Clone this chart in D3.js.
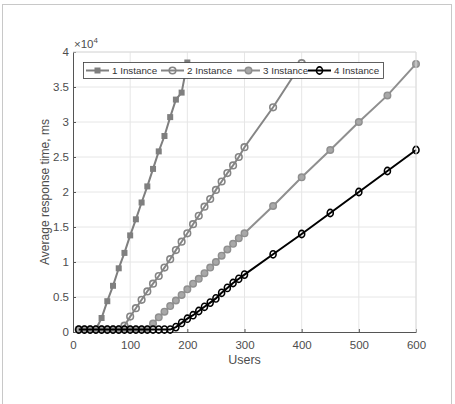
<!DOCTYPE html>
<html>
<head>
<meta charset="utf-8">
<script src="https://cdn.jsdelivr.net/npm/d3@7"></script>
<style>
  body { margin: 0; background: #fff; }
  text { font-family: "Liberation Sans", Arial, sans-serif; }
</style>
</head>
<body>
<div id="chart"></div>
<script>
// data (response time in ms)
const users1 = [10, 20, 30, 40, 50, 60, 70, 80, 90, 100, 110, 120, 130, 140, 150, 160, 170, 180, 190, 200];
const resp1 = [350, 350, 350, 350, 2000, 4400, 6600, 9100, 11300, 13800, 16100, 18500, 20800, 23300, 25800, 28000, 30700, 33200, 34200, 38500];

const users2 = [10, 20, 30, 40, 50, 60, 70, 80, 90, 100, 110, 120, 130, 140, 150, 160, 170, 180, 190, 200,
    210, 220, 230, 240, 250, 260, 270, 280, 290, 300, 350, 400];
const resp2 = [350, 350, 350, 350, 350, 350, 350, 350, 900, 2200, 3400, 4600, 5800, 6900, 8000, 9200, 10400, 11700, 12900, 14100,
    15400, 16600, 17900, 19000, 20300, 21500, 22700, 23800, 25000, 26400, 32100, 38400];

const users3 = [10, 20, 30, 40, 50, 60, 70, 80, 90, 100, 110, 120, 130, 140, 150, 160, 170, 180, 190, 200,
    210, 220, 230, 240, 250, 260, 270, 280, 290, 300, 350, 400, 450, 500, 550, 600];
const resp3 = [350, 350, 350, 350, 350, 350, 350, 350, 350, 350, 350, 350, 350, 1200, 2100, 2900, 3700, 4500, 5300, 6100,
    6900, 7600, 8400, 9200, 10000, 10900, 11800, 12600, 13400, 14100, 18000, 22100, 26000, 30000, 33800, 38300];

const users4 = users3;
const resp4 = [350, 350, 350, 350, 350, 350, 350, 350, 350, 350, 350, 350, 350, 350, 350, 350, 350, 700, 1300, 1900,
    2400, 3000, 3600, 4200, 4800, 5600, 6300, 7000, 7600, 8200, 11100, 14000, 17000, 20000, 23000, 26000];

const seriesNames = ['1 Instance', '2 Instance', '3 Instance', '4 Instance'];
const xTicks = [0, 100, 200, 300, 400, 500, 600];
const yTicks = [0, 5000, 10000, 15000, 20000, 25000, 30000, 35000, 40000];

const width = 455, height = 404;
const margin = { left: 73, right: 416, top: 52, bottom: 332 };

const svg = d3.select('#chart').append('svg')
    .attr('width', width)
    .attr('height', height);

svg.append('rect')
    .attr('width', width).attr('height', height)
    .attr('fill', '#fff');

// outer figure frame
svg.append('rect')
    .attr('x', 2.5).attr('y', 4.5)
    .attr('width', 449).attr('height', 420)
    .attr('fill', 'none')
    .attr('stroke', '#c8c8c8');

const x = d3.scaleLinear().domain([0, 600]).range([margin.left, margin.right]);
const y = d3.scaleLinear().domain([0, 40000]).range([margin.bottom, margin.top]);

// grid
svg.append('g').selectAll('line')
    .data(xTicks.slice(1))
    .enter().append('line')
    .attr('x1', d => x(d)).attr('x2', d => x(d))
    .attr('y1', margin.top).attr('y2', margin.bottom)
    .attr('stroke', '#e6e6e6');
svg.append('g').selectAll('line')
    .data(yTicks.slice(1))
    .enter().append('line')
    .attr('x1', margin.left).attr('x2', margin.right)
    .attr('y1', d => y(d)).attr('y2', d => y(d))
    .attr('stroke', '#e6e6e6');

// axes
const xAxis = svg.append('g')
    .attr('transform', `translate(0,${margin.bottom})`)
    .call(d3.axisBottom(x).tickValues(xTicks).tickSizeInner(-3).tickSizeOuter(0).tickPadding(9));
const yAxis = svg.append('g')
    .attr('transform', `translate(${margin.left},0)`)
    .call(d3.axisLeft(y).tickValues(yTicks).tickSizeInner(-3).tickSizeOuter(0).tickPadding(4)
        .tickFormat(d => d3.format('~g')(d / 10000)));

[xAxis, yAxis].forEach(a => {
    a.select('.domain').attr('stroke', '#555').attr('stroke-width', 1);
    a.selectAll('.tick line').attr('stroke', '#555');
    a.selectAll('.tick text').attr('fill', '#4d4d4d').style('font-size', '11.5px');
});

// exponent label
const expo = svg.append('text')
    .attr('x', 74).attr('y', 48)
    .attr('fill', '#4d4d4d')
    .style('font-size', '11.5px');
expo.append('tspan').text('\u00d710');
expo.append('tspan').attr('dy', -5).style('font-size', '8px').text('4');

svg.append('text')
    .attr('x', (margin.left + margin.right) / 2).attr('y', 364)
    .attr('text-anchor', 'middle')
    .attr('fill', '#4d4d4d')
    .style('font-size', '12.5px')
    .text('Users');

svg.append('text')
    .attr('transform', `translate(49,${(margin.top + margin.bottom) / 2}) rotate(-90)`)
    .attr('text-anchor', 'middle')
    .attr('fill', '#4d4d4d')
    .style('font-size', '12px')
    .text('Average response time, ms');

// series
const series = [
    { name: seriesNames[0], xs: users1, ys: resp1, color: '#7f7f7f', marker: 'square' },
    { name: seriesNames[1], xs: users2, ys: resp2, color: '#858585', marker: 'ring' },
    { name: seriesNames[2], xs: users3, ys: resp3, color: '#8f8f8f', marker: 'dot' },
    { name: seriesNames[3], xs: users4, ys: resp4, color: '#000000', marker: 'ring4' }
];

const line = d3.line().x(d => x(d[0])).y(d => y(d[1]));

function drawMarker(g, marker, color) {
    if (marker === 'square') {
        g.append('rect')
            .attr('x', -3).attr('y', -3).attr('width', 6).attr('height', 6)
            .attr('fill', color);
    } else if (marker === 'ring') {
        g.append('circle').attr('r', 3.3)
            .attr('fill', 'none').attr('stroke', color).attr('stroke-width', 1.6);
    } else if (marker === 'dot') {
        g.append('circle').attr('r', 3.3)
            .attr('fill', '#a8a8a8').attr('stroke', color).attr('stroke-width', 1.4);
    } else {
        g.append('ellipse').attr('rx', 3).attr('ry', 3.6)
            .attr('fill', 'none').attr('stroke', color).attr('stroke-width', 1.6);
    }
}

const plot = svg.append('g');
series.forEach(s => {
    const pts = s.xs.map((d, i) => [d, s.ys[i]]);
    plot.append('path')
        .datum(pts)
        .attr('d', line)
        .attr('fill', 'none')
        .attr('stroke', s.color)
        .attr('stroke-width', 2);
    plot.append('g').selectAll('g')
        .data(pts)
        .enter().append('g')
        .attr('transform', d => `translate(${x(d[0])},${y(d[1])})`)
        .each(function () { drawMarker(d3.select(this), s.marker, s.color); });
});

// top and right box edges
svg.append('line').attr('x1', margin.left).attr('x2', margin.right).attr('y1', margin.top).attr('y2', margin.top).attr('stroke', '#dcdcdc');
svg.append('line').attr('x1', margin.right).attr('x2', margin.right).attr('y1', margin.top).attr('y2', margin.bottom).attr('stroke', '#dcdcdc');

// legend
const legend = svg.append('g');
legend.append('rect')
    .attr('x', 83.5).attr('y', 62.5)
    .attr('width', 300).attr('height', 16)
    .attr('fill', '#fff')
    .attr('stroke', '#3a3a3a')
    .attr('stroke-width', 0.8);

const legendX = [86, 161, 237, 308];
series.forEach((s, i) => {
    const g = legend.append('g').attr('transform', `translate(${legendX[i]},70.5)`);
    g.append('line').attr('x1', 0).attr('x2', 23).attr('stroke', s.color).attr('stroke-width', 2);
    const m = g.append('g').attr('transform', 'translate(11.5,0)');
    drawMarker(m, s.marker, s.color);
    g.append('text')
        .attr('x', 26).attr('y', 3.5)
        .attr('fill', '#333')
        .style('font-size', '9.8px')
        .text(s.name);
});
</script>
</body>
</html>
